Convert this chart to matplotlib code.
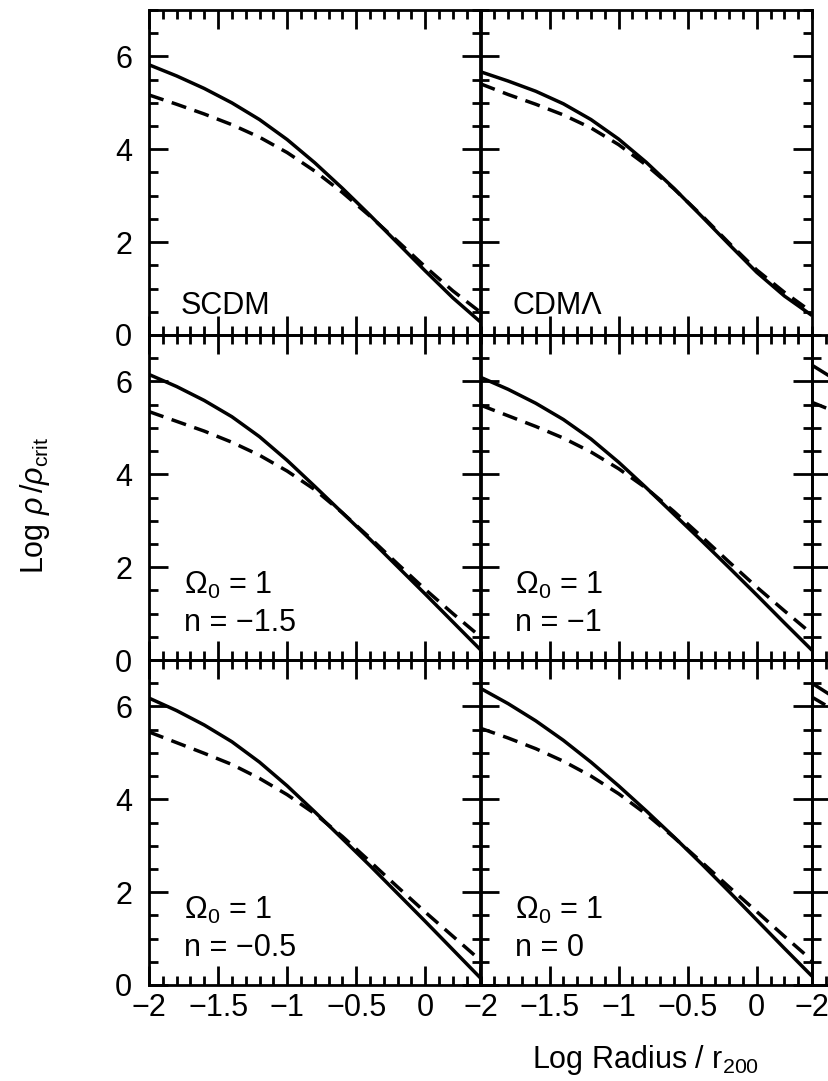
import matplotlib
matplotlib.use("Agg")
import matplotlib.pyplot as plt
from matplotlib.ticker import MultipleLocator, FuncFormatter

plt.rcParams['font.family'] = ['Liberation Sans', 'DejaVu Sans']
plt.rcParams['mathtext.fontset'] = 'custom'
plt.rcParams['mathtext.rm'] = 'Liberation Sans'
plt.rcParams['mathtext.it'] = 'Liberation Sans:italic'
plt.rcParams['axes.unicode_minus'] = True

# ---------------- data ----------------
log_r = [-2.0, -1.8, -1.6, -1.4, -1.2, -1.0, -0.8, -0.6, -0.4, -0.2, 0.0, 0.2, 0.4]

scdm_solid = [5.82, 5.58, 5.31, 5.00, 4.64, 4.21, 3.71, 3.16, 2.58, 1.98, 1.38, 0.80, 0.28]
scdm_dashed = [5.17, 4.97, 4.76, 4.53, 4.26, 3.93, 3.53, 3.07, 2.56, 2.02, 1.47, 0.95, 0.49]

cdml_solid = [5.67, 5.47, 5.25, 4.98, 4.64, 4.22, 3.72, 3.16, 2.56, 1.95, 1.35, 0.84, 0.42]
cdml_dashed = [5.41, 5.18, 4.97, 4.74, 4.46, 4.10, 3.66, 3.15, 2.58, 1.98, 1.40, 0.92, 0.49]

n15_solid = [6.15, 5.89, 5.59, 5.24, 4.81, 4.30, 3.74, 3.17, 2.60, 2.01, 1.42, 0.82, 0.22]
n15_dashed = [5.35, 5.14, 4.93, 4.69, 4.41, 4.07, 3.67, 3.17, 2.63, 2.07, 1.52, 1.00, 0.50]

n10_solid = [6.09, 5.83, 5.53, 5.18, 4.76, 4.26, 3.71, 3.14, 2.57, 1.99, 1.40, 0.80, 0.21]
n10_dashed = [5.49, 5.26, 5.03, 4.78, 4.48, 4.12, 3.70, 3.20, 2.66, 2.11, 1.57, 1.06, 0.56]

n05_solid = [6.18, 5.91, 5.60, 5.24, 4.80, 4.29, 3.73, 3.15, 2.57, 1.97, 1.37, 0.76, 0.15]
n05_dashed = [5.45, 5.22, 4.99, 4.75, 4.45, 4.10, 3.69, 3.20, 2.66, 2.11, 1.57, 1.05, 0.53]

n00_solid = [6.39, 6.06, 5.69, 5.27, 4.80, 4.29, 3.75, 3.19, 2.61, 2.01, 1.40, 0.79, 0.19]
n00_dashed = [5.53, 5.32, 5.09, 4.82, 4.50, 4.12, 3.68, 3.18, 2.65, 2.11, 1.58, 1.05, 0.53]

# third (cropped) column, only its leftmost part is visible
c3r2_solid = [6.35, 5.98, 5.60, 5.20, 4.76, 4.26, 3.72, 3.15, 2.58, 1.99, 1.40, 0.80, 0.20]
c3r2_dashed = [5.55, 5.31, 5.07, 4.81, 4.51, 4.14, 3.71, 3.21, 2.67, 2.12, 1.58, 1.06, 0.55]
c3r3_solid = [6.50, 6.12, 5.72, 5.29, 4.81, 4.30, 3.75, 3.18, 2.60, 2.01, 1.41, 0.80, 0.20]
c3r3_dashed = [6.20, 5.85, 5.48, 5.08, 4.65, 4.18, 3.68, 3.16, 2.62, 2.08, 1.54, 1.03, 0.52]

labels = {
    (0, 0): ["SCDM"],
    (0, 1): ["CDM\u039b"],
    (1, 0): [r"$\mathregular{\Omega_0}$ = 1", "n = \u22121.5"],
    (1, 1): [r"$\mathregular{\Omega_0}$ = 1", "n = \u22121"],
    (2, 0): [r"$\mathregular{\Omega_0}$ = 1", "n = \u22120.5"],
    (2, 1): [r"$\mathregular{\Omega_0}$ = 1", "n = 0"],
}

series = {
    (0, 0): (scdm_solid, scdm_dashed),
    (0, 1): (cdml_solid, cdml_dashed),
    (1, 0): (n15_solid, n15_dashed),
    (1, 1): (n10_solid, n10_dashed),
    (2, 0): (n05_solid, n05_dashed),
    (2, 1): (n00_solid, n00_dashed),
    (1, 2): (c3r2_solid, c3r2_dashed),
    (2, 2): (c3r3_solid, c3r3_dashed),
}

# ---------------- layout ----------------
FW, FH = 829, 1081
fig = plt.figure(figsize=(FW / 100, FH / 100), dpi=100)

col_left = [149, 480.5, 812]
row_top = [10, 335, 660]
PW, PH = 331.5, 325

FS = 22
fmt = FuncFormatter(lambda v, p: f"{v:g}".replace("-", "\u2212"))

for (r, c), (solid, dashed) in series.items():
    l = col_left[c]
    t = row_top[r]
    ax = fig.add_axes([l / FW, 1 - (t + PH) / FH, PW / FW, PH / FH])
    ax.plot(log_r, solid, color="black", lw=2.5, solid_capstyle="butt",
            solid_joinstyle="round")
    ax.plot(log_r, dashed, color="black", lw=2.5, dashes=(4.4, 2.5))
    ax.set_xlim(-2, 0.4)
    ax.set_ylim(0, 7)
    ax.xaxis.set_major_locator(MultipleLocator(0.5))
    ax.xaxis.set_minor_locator(MultipleLocator(0.1))
    ax.yaxis.set_major_locator(MultipleLocator(2))
    ax.yaxis.set_minor_locator(MultipleLocator(0.5))
    ax.tick_params(which="both", direction="in", top=True, right=True,
                   width=2.0, color="black")
    ax.tick_params(which="major", length=13.5)
    ax.tick_params(which="minor", length=6.5)
    ax.tick_params(axis="x", labelsize=FS, pad=6)
    ax.tick_params(axis="y", labelsize=FS, pad=12)
    for sp in ax.spines.values():
        sp.set_linewidth(2.0)
    ax.xaxis.set_major_formatter(fmt)
    ax.yaxis.set_major_formatter(fmt)
    if r != 2:
        ax.tick_params(axis="x", labelbottom=False)
    if c != 0:
        ax.tick_params(axis="y", labelleft=False)
    ax.patch.set_alpha(0)
    if (r, c) in labels:
        lines = labels[(r, c)]
        if len(lines) == 1:
            ax.text(-1.77, 0.45, lines[0], fontsize=FS, ha="left", va="baseline")
        else:
            ax.text(-1.75, 1.42, lines[0], fontsize=FS, ha="left", va="baseline")
            ax.text(-1.75, 0.62, lines[1], fontsize=FS, ha="left", va="baseline")

fig.text(646 / FW, 1 - 1060 / FH, r"Log Radius / r$_{\mathregular{200}}$",
         fontsize=FS, ha="center", va="center")
fig.text(35 / FW, 1 - 505 / FH, r"Log $\rho\,/\rho_{\mathregular{crit}}$",
         fontsize=FS, ha="center", va="center", rotation=90)

fig.savefig("out.png", dpi=100)
